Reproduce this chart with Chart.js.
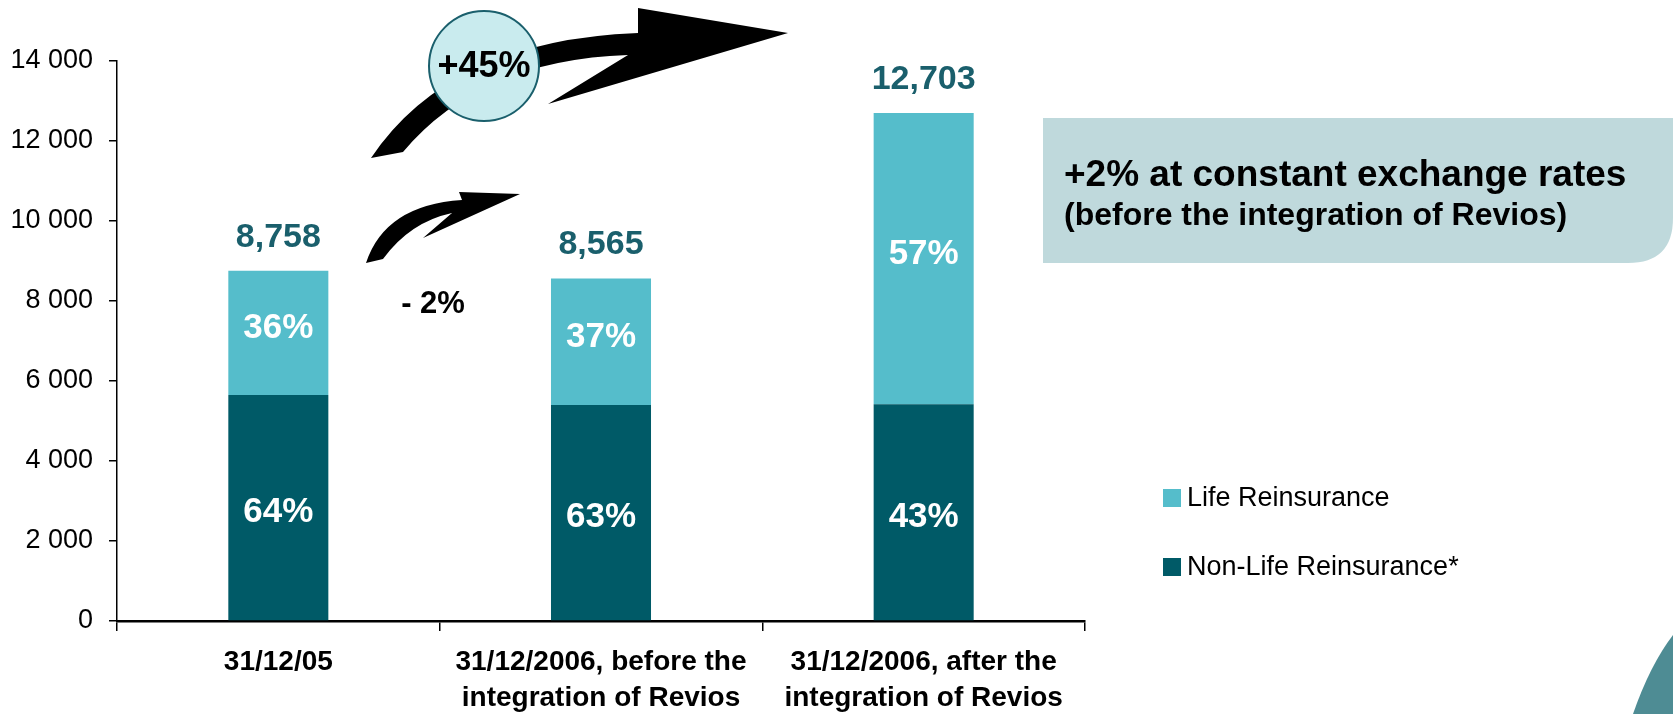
<!DOCTYPE html>
<html>
<head>
<meta charset="utf-8">
<script src="https://cdn.jsdelivr.net/npm/chart.js@4.4.1/dist/chart.umd.min.js"></script>
<style>
  html, body { margin: 0; padding: 0; background: #fff; }
  #wrap { width: 1673px; height: 714px; position: relative; }
</style>
</head>
<body>
<div id="wrap"><canvas id="myChart" width="1673" height="714"></canvas></div>
<script>
// categories and values (EUR million)
var periods = [
  ['31/12/05'],
  ['31/12/2006, before the', 'integration of Revios'],
  ['31/12/2006, after the', 'integration of Revios']
];
var nonLife = [5650, 5400, 5420];
var life = [3108, 3165, 7283];
var totals = ['8,758', '8,565', '12,703'];
var lifeShare = ['36%', '37%', '57%'];
var nonLifeShare = ['64%', '63%', '43%'];
var yTicks = [0, 2000, 4000, 6000, 8000, 10000, 12000, 14000];

var LIFE = '#55bdcb';
var NONLIFE = '#005a67';
var DARKTXT = '#1a5f6c';
var FONT = '"Liberation Sans", Arial, sans-serif';

// labels on and above the bars
var barLabels = {
  id: 'barLabels',
  afterDatasetsDraw: function(chart) {
    var ctx = chart.ctx;
    var m0 = chart.getDatasetMeta(0), m1 = chart.getDatasetMeta(1);
    ctx.save();
    ctx.textAlign = 'center';
    ctx.textBaseline = 'middle';
    ctx.fillStyle = '#fff';
    ctx.font = 'bold 35px ' + FONT;
    m0.data.forEach(function(b, i) {
      ctx.fillText(nonLifeShare[i], b.x, (b.y + b.base) / 2 + 5);
    });
    m1.data.forEach(function(b, i) {
      ctx.fillText(lifeShare[i], b.x, (b.y + b.base) / 2 - 4);
    });
    ctx.textBaseline = 'alphabetic';
    ctx.fillStyle = DARKTXT;
    ctx.font = 'bold 34px ' + FONT;
    m1.data.forEach(function(b, i) {
      ctx.fillText(totals[i], b.x, b.y - 24);
    });
    ctx.restore();
  }
};

// arrows, bubble, note box, legend
var extras = {
  id: 'extras',
  afterDraw: function(chart) {
    var ctx = chart.ctx;
    ctx.save();

    // note box
    ctx.fillStyle = '#bfd9dc';
    ctx.beginPath();
    ctx.moveTo(1043, 118);
    ctx.lineTo(1673, 118);
    ctx.lineTo(1673, 218);
    ctx.quadraticCurveTo(1673, 263, 1628, 263);
    ctx.lineTo(1043, 263);
    ctx.closePath();
    ctx.fill();
    ctx.fillStyle = '#000';
    ctx.textAlign = 'left';
    ctx.font = 'bold 37px ' + FONT;
    ctx.fillText('+2% at constant exchange rates', 1064, 186);
    ctx.font = 'bold 32px ' + FONT;
    ctx.fillText('(before the integration of Revios)', 1064, 225);

    // big arrow
    ctx.fillStyle = '#000';
    ctx.beginPath();
    ctx.moveTo(371, 158);
    ctx.quadraticCurveTo(450, 40, 638, 33);
    ctx.lineTo(638, 8);
    ctx.lineTo(788, 33);
    ctx.lineTo(548, 104);
    ctx.lineTo(628, 55);
    ctx.quadraticCurveTo(480, 60, 403, 152);
    ctx.closePath();
    ctx.fill();

    // small arrow
    ctx.beginPath();
    ctx.moveTo(366, 263);
    ctx.quadraticCurveTo(385, 205, 462, 200);
    ctx.lineTo(459, 192);
    ctx.lineTo(520, 194);
    ctx.lineTo(423, 238);
    ctx.lineTo(452, 213);
    ctx.quadraticCurveTo(410, 222, 383, 259);
    ctx.closePath();
    ctx.fill();

    // +45% bubble
    ctx.fillStyle = '#c9ebee';
    ctx.strokeStyle = '#1a5f6c';
    ctx.lineWidth = 2;
    ctx.beginPath();
    ctx.ellipse(484, 66, 55, 55, 0, 0, Math.PI * 2);
    ctx.fill();
    ctx.stroke();
    ctx.fillStyle = '#000';
    ctx.textAlign = 'center';
    ctx.textBaseline = 'middle';
    ctx.font = 'bold 36px ' + FONT;
    ctx.fillText('+45%', 484, 67);
    ctx.font = 'bold 31px ' + FONT;
    ctx.fillText('- 2%', 433, 304);

    // legend
    ctx.textAlign = 'left';
    ctx.font = '27px ' + FONT;
    chart.data.datasets.slice().reverse().forEach(function(ds, i) {
      var y = 498 + i * 69;
      ctx.fillStyle = ds.backgroundColor;
      ctx.fillRect(1163, y - 9, 18, 18);
      ctx.fillStyle = '#000';
      ctx.fillText(ds.label, 1187, y + 1);
    });

    // corner swoosh
    ctx.fillStyle = '#4e8c94';
    ctx.beginPath();
    ctx.moveTo(1633, 714);
    ctx.quadraticCurveTo(1650, 665, 1673, 635);
    ctx.lineTo(1673, 714);
    ctx.closePath();
    ctx.fill();

    ctx.restore();
  }
};

var ctx = document.getElementById('myChart');
var myChart = new Chart(ctx, {
  type: 'bar',
  data: {
    labels: periods,
    datasets: [
      { label: 'Non-Life Reinsurance*', data: nonLife, backgroundColor: NONLIFE },
      { label: 'Life Reinsurance', data: life, backgroundColor: LIFE }
    ]
  },
  options: {
    responsive: false,
    animation: false,
    events: [],
    layout: { padding: { left: 0, right: 588, top: 61, bottom: 0 } },
    datasets: { bar: { categoryPercentage: 1, barPercentage: 0.31 } },
    plugins: { legend: { display: false }, tooltip: { enabled: false } },
    scales: {
      x: {
        stacked: true,
        afterFit: function(s) { s.height = 93; },
        border: { color: '#000', width: 2.5 },
        grid: { drawOnChartArea: false, color: '#000', lineWidth: 1.5, tickLength: 10 },
        ticks: { color: '#000', padding: 13, font: { family: FONT, size: 28, weight: 'bold', lineHeight: 1.3 } }
      },
      y: {
        stacked: true,
        min: 0,
        max: 14000,
        afterFit: function(s) { s.width = 117; },
        afterBuildTicks: function(s) { s.ticks = yTicks.map(function(v) { return { value: v }; }); },
        border: { color: '#000', width: 1.5 },
        grid: { drawOnChartArea: false, color: '#000', lineWidth: 1.5, tickLength: 8 },
        ticks: {
          color: '#000',
          padding: 16,
          font: { family: FONT, size: 27 },
          callback: function(v) { return v === 0 ? '0' : Math.floor(v / 1000) + ' 000'; }
        }
      }
    }
  },
  plugins: [barLabels, extras]
});
</script>
</body>
</html>
